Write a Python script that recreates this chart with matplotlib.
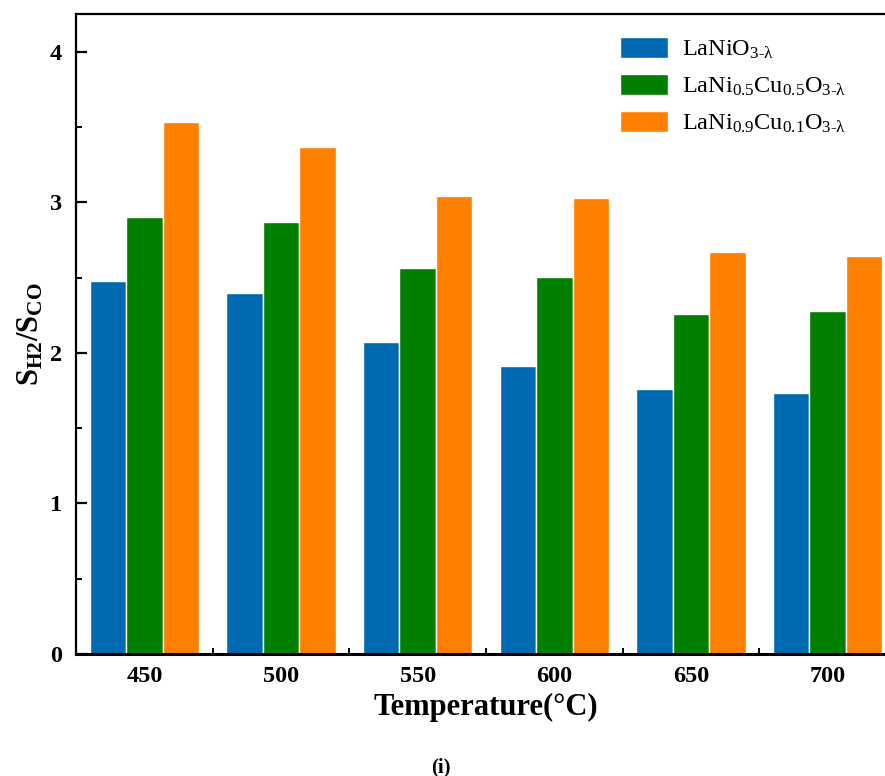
import numpy as np
import matplotlib
matplotlib.use("Agg")
import matplotlib.pyplot as plt
from matplotlib.ticker import MultipleLocator, FixedLocator

plt.rcParams['font.family'] = ['Liberation Serif', 'DejaVu Serif']
plt.rcParams['mathtext.fontset'] = 'custom'
plt.rcParams['mathtext.rm'] = 'Liberation Serif'
plt.rcParams['mathtext.it'] = 'Liberation Serif:italic'
plt.rcParams['mathtext.bf'] = 'Liberation Serif:bold'

temperatures = ['450', '500', '550', '600', '650', '700']
lanio3 = [2.48, 2.40, 2.07, 1.91, 1.76, 1.73]
lani05cu05 = [2.90, 2.87, 2.56, 2.505, 2.26, 2.275]
lani09cu01 = [3.53, 3.37, 3.04, 3.03, 2.67, 2.64]

series_labels = [r'LaNiO$_{\mathrm{3‐λ}}$',
                 r'LaNi$_{\mathrm{0.5}}$Cu$_{\mathrm{0.5}}$O$_{\mathrm{3‐λ}}$',
                 r'LaNi$_{\mathrm{0.9}}$Cu$_{\mathrm{0.1}}$O$_{\mathrm{3‐λ}}$']
series_colors = ['#006AB0', '#007F00', '#FF8000']

fig = plt.figure(figsize=(8.85, 7.76), dpi=100)
ax = fig.add_axes([76/885, 122/776, 820/885, 640/776])

x = np.arange(len(temperatures))
w = 0.267
for i, (vals, lab, col) in enumerate(zip([lanio3, lani05cu05, lani09cu01],
                                         series_labels, series_colors)):
    ax.bar(x + (i - 1) * w, vals, width=w, color=col, edgecolor='white',
           linewidth=1.0, label=lab, zorder=2)

ax.set_xlim(-0.5, 5.5)
ax.set_ylim(0, 4.25)

ax.set_xticks(x)
ax.set_xticklabels(temperatures)
ax.xaxis.set_minor_locator(FixedLocator(np.arange(-0.5, 6, 1.0)))
ax.yaxis.set_major_locator(MultipleLocator(1))
ax.yaxis.set_minor_locator(MultipleLocator(0.5))

for sp in ax.spines.values():
    sp.set_linewidth(1.6)
ax.spines['bottom'].set_linewidth(2.2)

ax.tick_params(axis='both', which='major', direction='in', length=8, width=1.6,
               labelsize=17.5)
ax.tick_params(axis='both', which='minor', direction='in', length=4, width=1.4)
ax.tick_params(axis='x', which='major', pad=9)
ax.tick_params(axis='y', which='major', pad=10)
ax.tick_params(top=False, right=False, which='both')
for t in ax.get_xticklabels() + ax.get_yticklabels():
    t.set_fontweight('bold')

ax.set_xlabel('Temperature(°C)', fontsize=22, fontweight='bold', labelpad=4)
ax.set_ylabel(r'$\mathbf{S}_{\mathbf{H2}}\mathbf{/S}_{\mathbf{CO}}$', fontsize=22,
              labelpad=3)

leg = ax.legend(loc='upper left', bbox_to_anchor=(0.637, 0.998), frameon=False,
                fontsize=17.5, handlelength=1.95, handleheight=0.95,
                handletextpad=0.6, labelspacing=0.52)

fig.text(441/885, 1 - 767/776, '(i)', ha='center', va='center',
         fontsize=15, fontweight='bold')

fig.savefig('out.png', dpi=100)
